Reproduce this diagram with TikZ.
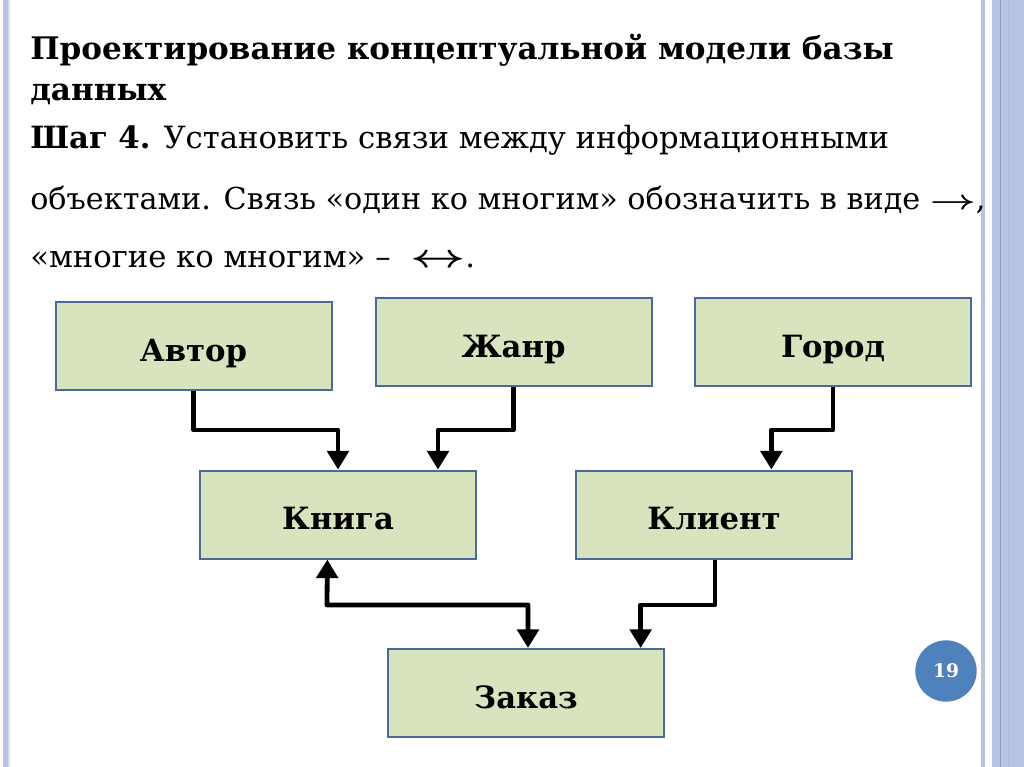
\documentclass[tikz,border=0pt]{standalone}
\usepackage{amsmath}
\usepackage{fontspec}
\setmainfont{DejaVu Serif}
\usetikzlibrary{arrows.meta}

\definecolor{boxfill}{HTML}{D7E4BD}
\definecolor{boxline}{HTML}{4A6A9C}
\definecolor{stripe}{HTML}{B9C3E2}
\definecolor{stripedark}{HTML}{8A9FCB}
\definecolor{pagecirc}{HTML}{4F81BD}

\tikzset{
  entity/.style={draw=boxline, fill=boxfill, line width=1.5pt,
    minimum width=207pt, minimum height=66pt,
    text height=23pt, text depth=0pt,
    font=\bfseries\fontsize{23}{23}\selectfont},
  link/.style={line width=3.6pt, line join=round,
    -{Triangle[width=16pt,length=14pt]}},
  twoway/.style={line width=3.6pt, line join=round,
    {Triangle[width=16pt,length=14pt]}-{Triangle[width=16pt,length=14pt]}},
  txt/.style={anchor=base west, inner sep=0pt, font=\fontsize{23}{27}\selectfont},
  head/.style={txt, font=\bfseries\fontsize{23.3}{27}\selectfont}
}

\begin{document}
\begin{tikzpicture}[x=0.75pt, y=-0.75pt]
    \useasboundingbox (0,0) rectangle (1024,767);
    % slide frame
    \fill[white] (0,0) rectangle (1024,767);
    \fill[stripe] (3,0) rectangle (8,767);
    \fill[stripe!50] (8,0) rectangle (10,767);
    \fill[stripe] (981,0) rectangle (985,767);
    \fill[stripe] (992,0) rectangle (1024,767);
    \draw[stripedark, line width=0.75pt] (1000,0) -- (1000,767);
    \draw[stripedark!70, line width=0.75pt] (1008,0) -- (1008,767);

    % text
    \node [head] (t1) at (30,60) {Проектирование концептуальной модели базы};
    \node [head] (t2) at (30,100) {данных};
    \node [txt] (t3) at (30,148) {\textbf{Шаг 4.} Установить связи между информационными};
    \node [txt, font=\fontsize{22.7}{27}\selectfont] (t4) at (30,209)
      {объектами. Связь «один ко многим» обозначить в виде \scalebox{1.45}[1]{$\boldsymbol{\rightarrow}$},};
    \node [txt] (t5) at (30,267) {«многие ко многим» – \ \scalebox{1.45}[1]{$\boldsymbol{\leftrightarrow}$}.};

    % entities
    \node [entity] (avtor) at (193.5,346) {Автор};
    \node [entity] (zhanr) at (513.5,342) {Жанр};
    \node [entity] (gorod) at (833,342) {Город};
    \node [entity] (kniga) at (338,514.5) {Книга};
    \node [entity] (klient) at (714,514.5) {Клиент};
    \node [entity] (zakaz) at (526,693) {Заказ};

    % bends
    \coordinate (b1) at (193.5,430);
    \coordinate (b2) at (513.5,430);
    \coordinate (b3) at (833,430);
    \coordinate (b4) at (327,605);
    \coordinate (b5) at (715,605);

    \draw [link] (avtor.south) -- (b1) -| (kniga.north);
    \draw [link] (zhanr.south) -- (b2) -| ([xshift=75pt]kniga.north);
    \draw [link] (gorod.south) -- (b3) -| ([xshift=43pt]klient.north);
    \draw [twoway] ([xshift=-8pt]kniga.south) -- (b4) -| ([xshift=1.5pt]zakaz.north);
    \draw [link] ([xshift=0.75pt]klient.south) -- (b5) -| ([xshift=86pt]zakaz.north);

    % page number
    \node [circle, fill=pagecirc, minimum size=46pt, inner sep=0pt, text=white,
      font=\bfseries\fontsize{14}{14}\selectfont] (page) at (946,671) {19};
\end{tikzpicture}
\end{document}
